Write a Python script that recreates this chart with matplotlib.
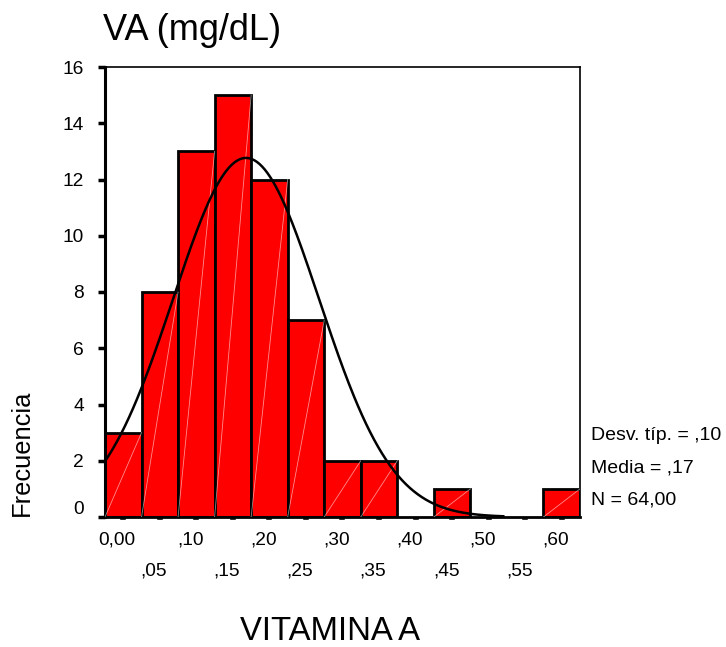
import numpy as np
import matplotlib
matplotlib.use("Agg")
import matplotlib.pyplot as plt
from matplotlib.transforms import ScaledTranslation

plt.rcParams['font.family'] = ['Liberation Sans', 'DejaVu Sans']

# data
bin_centers = [0.00, 0.05, 0.10, 0.15, 0.20, 0.25, 0.30, 0.35, 0.40, 0.45, 0.50, 0.55, 0.60]
counts = [3, 8, 13, 15, 12, 7, 2, 2, 0, 1, 0, 0, 1]
tick_labels = ["0,00", ",05", ",10", ",15", ",20", ",25", ",30", ",35", ",40", ",45", ",50", ",55", ",60"]
y_ticks = [0, 2, 4, 6, 8, 10, 12, 14, 16]
std_dev = 0.10
mean = 0.168
n_total = 64
bin_width = 0.05
stats_lines = ["Desv. típ. = ,10", "Media = ,17", "N = 64,00"]

fig = plt.figure(figsize=(7.26, 6.47), dpi=100)
ax = fig.add_axes([105/726, 1 - 517/647, 475/726, 450/647])

for c, h in zip(bin_centers, counts):
    if h <= 0:
        continue
    ax.bar(c, h, width=bin_width, color='#ff0000', edgecolor='black', linewidth=2.0, zorder=2)
    ax.plot([c - bin_width/2, c + bin_width/2], [0, h], color='white', alpha=0.55, lw=0.6, zorder=3)

xs = np.linspace(-0.025, 0.52, 300)
ys = n_total * bin_width / (std_dev * np.sqrt(2 * np.pi)) * np.exp(-0.5 * ((xs - mean) / std_dev) ** 2)
ax.plot(xs, ys, color='black', lw=1.8, zorder=4)

ax.set_xlim(-0.025, 0.625)
ax.set_ylim(0, 16)

ax.set_xticks(bin_centers)
labels = ax.set_xticklabels(tick_labels, fontsize=13.8)
ax.tick_params(axis='x', direction='out', length=2.5, width=4, pad=8, color='#333333')
for i, lab in enumerate(labels):
    dy = -22/72 if i % 2 == 1 else 0
    lab.set_transform(lab.get_transform() + ScaledTranslation(-6/100, dy, fig.dpi_scale_trans))

ax.set_yticks(y_ticks)
ylabs = ax.set_yticklabels([str(v) for v in y_ticks], fontsize=13.8)
ax.tick_params(axis='y', direction='out', length=5, width=2.5, pad=10)
ylabs[0].set_transform(ylabs[0].get_transform() + ScaledTranslation(0, 10/100, fig.dpi_scale_trans))

ax.spines['left'].set_linewidth(2.2)
ax.spines['bottom'].set_linewidth(2.0)
ax.spines['top'].set_linewidth(1.2)
ax.spines['right'].set_linewidth(1.2)

fig.text(103/726, 1 - 30/647, "VA (mg/dL)", fontsize=26, ha='left', va='center')
fig.text(330/726, 1 - 632/647, "VITAMINA A", fontsize=23.7, ha='center', va='center')
fig.text(22/726, 1 - 453/647, "Frecuencia", fontsize=18.4, rotation=90, ha='center', va='center')

for txt, yy in zip(stats_lines, [435, 468, 500]):
    fig.text(591/726, 1 - yy/647, txt, fontsize=14, ha='left', va='center')

fig.savefig("out.png", dpi=100)
